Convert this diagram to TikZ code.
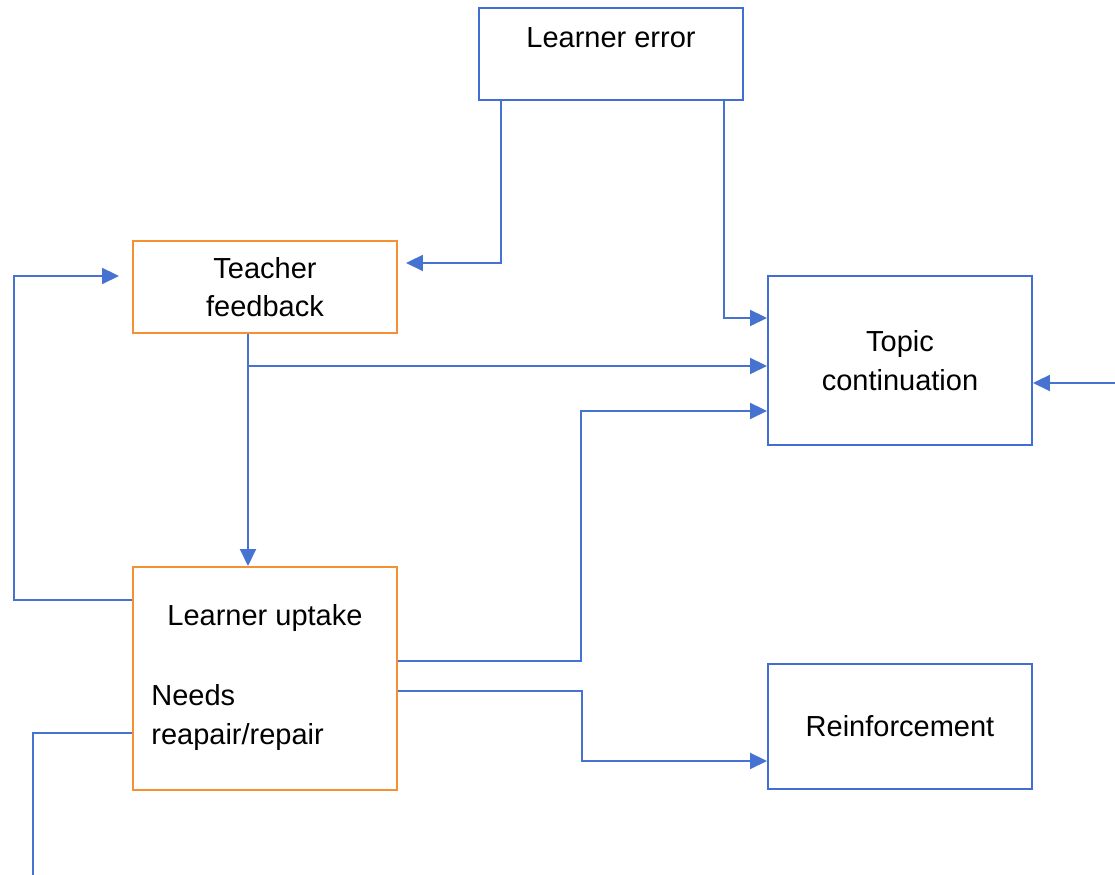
\documentclass[tikz,border=0pt]{standalone}
\usepackage{fontspec}
\setmainfont{Liberation Sans}
\usepackage{tikz}
\usetikzlibrary{arrows.meta}
\definecolor{boxblue}{RGB}{64,110,210}
\definecolor{lineblue}{RGB}{70,115,210}
\definecolor{boxorange}{RGB}{245,145,50}

\begin{document}
\begin{tikzpicture}[every node/.style={font=\fontsize{16.5}{22}\selectfont},
    bluebox/.style={draw=boxblue, line width=1.1pt, rectangle, minimum width=5.28cm, align=center},
    orangebox/.style={draw=boxorange, line width=1.1pt, rectangle, minimum width=5.28cm, align=center},
    conn/.style={draw=lineblue, line width=1.1pt},
    arr/.style={conn, -{Triangle[length=0.34cm, width=0.32cm]}}]
    \useasboundingbox (0,0) rectangle (22.3,17.5);
    \node[bluebox, minimum height=1.84cm, label={[inner sep=0pt, yshift=0.32cm]center:Learner error}] (lerr) at (12.22,16.42) {};
    \node[orangebox, minimum height=1.84cm] (tfb) at (5.3,11.76) {Teacher\\feedback};
    \node[bluebox, minimum height=3.38cm] (topic) at (18.0,10.29) {Topic\\continuation};
    \node[orangebox, minimum height=4.46cm,
        label={[inner sep=0pt, yshift=1.21cm]center:Learner uptake},
        label={[inner sep=0pt, anchor=west, align=left, xshift=0.38cm, yshift=-0.78cm]west:Needs\\reapair/repair}] (uptake) at (5.3,3.93) {};
    \node[bluebox, minimum height=2.5cm] (reinf) at (18.0,2.97) {Reinforcement};
    % bends
    \coordinate (errfb) at (10.02,12.24);
    \coordinate (errtc) at (14.48,11.14);
    \coordinate (fbdown) at (4.96,10.18);
    \coordinate (loopup) at (0.28,11.98);
    \coordinate (uptc) at (11.62,9.28);
    \coordinate (upre) at (11.64,2.28);
    \coordinate (needs) at (0.66,2.84);
    \coordinate (needsend) at (0.66,0);
    \coordinate (rightin) at (22.3,9.84);
    \draw[arr, shorten >=0.16cm] (lerr.south -| errfb) -- (errfb) -- (tfb.east |- errfb);
    \draw[arr] (lerr.south -| errtc) -- (errtc) -- (topic.west |- errtc);
    \draw[arr] (tfb.south -| fbdown) -- (uptake.north -| fbdown);
    \draw[arr] (fbdown) -- (topic.west |- fbdown);
    \draw[arr, shorten >=0.26cm] (uptake.west |- 0,5.5) -| (loopup) -- (tfb.west |- loopup);
    \draw[arr] (uptake.east |- 0,4.28) -| (uptc) -- (topic.west |- uptc);
    \draw[arr] (uptake.east |- 0,3.68) -| (upre) -- (reinf.west |- upre);
    \draw[conn] (uptake.west |- needs) -- (needs) -- (needsend);
    \draw[arr] (rightin) -- (topic.east |- rightin);
\end{tikzpicture}
\end{document}
